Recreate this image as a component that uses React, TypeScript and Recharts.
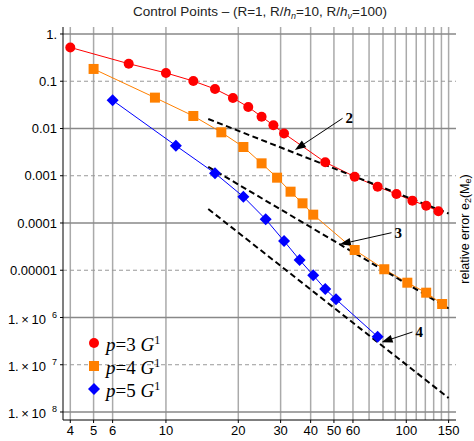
import React from 'react';
import { ComposedChart, Line, XAxis, YAxis, ReferenceLine } from 'recharts';

// element counts and relative errors per degree
const p3X = [4, 7, 10, 13, 16, 19, 22, 25, 28, 31, 46, 61, 76, 91, 106, 121, 136];
const p3Err = [0.52, 0.235, 0.15, 0.101, 0.0686, 0.0442, 0.0285, 0.0178, 0.0117, 0.00784, 0.00193, 9.55e-4, 5.86e-4, 4.11e-4, 2.97e-4, 2.32e-4, 1.77e-4];
const p4X = [5, 9, 13, 17, 21, 25, 29, 33, 37, 41, 61, 81, 101, 121, 141];
const p4Err = [0.182, 0.045, 0.0184, 0.0083, 0.00406, 0.00183, 9.1e-4, 4.6e-4, 2.61e-4, 1.5e-4, 2.68e-5, 1.05e-5, 5.45e-6, 3.35e-6, 1.93e-6];
const p5X = [6, 11, 16, 21, 26, 31, 36, 41, 46, 51, 76];
const p5Err = [0.0395, 0.00433, 0.00113, 3.6e-4, 1.2e-4, 4.16e-5, 1.65e-5, 7.82e-6, 4.01e-6, 2.43e-6, 3.92e-7];

// convergence-order guide lines (end points)
const slopeX = [15, 150];
const slope2 = [0.0159, 1.59e-4];
const slope3 = [1.55e-3, 1.55e-6];
const slope4 = [1.98e-4, 1.98e-8];

// order annotations: tail -> tip
const arrowLabels = ['2', '3', '4'];
const arrowTail = [[54.3, 0.0164], [86.8, 6.23e-5], [106.1, 4.93e-7]];
const arrowTip = [[34.4, 3.51e-3], [52.9, 3.54e-5], [78.9, 2.99e-7]];

const xTicks = [4, 5, 6, 10, 20, 30, 40, 50, 60, 100, 150];
const xGrid = [4, 5, 6, 10, 20, 30, 40, 50, 60, 70, 80, 90, 100, 110, 120, 130, 140, 150];
const yTicks = [1e-8, 1e-7, 1e-6, 1e-5, 1e-4, 1e-3, 0.01, 0.1, 1];
const yTickLabels = ['1.\u2009×\u200910|8', '1.\u2009×\u200910|7', '1.\u2009×\u200910|6', '0.00001', '0.0001', '0.001', '0.01', '0.1', '1.'];
const yMajor = [1, 0.01, 1e-4, 1e-6, 1e-8];
const yMinor = [0.1, 1e-3, 1e-5, 1e-7];

const xDomain = [3.73, 161];
const yDomain = [6.77e-9, 1.406];

const RED = '#ff0000';
const ORANGE = '#ff8000';
const BLUE = '#0000ff';

const toPoints = (xs: number[], ys: number[]) => xs.map((x, i) => ({ x, y: ys[i] }));

const circleDot = (props: any) => (
  <circle key={`c-${props.index}`} cx={props.cx} cy={props.cy} r={5} fill={RED} />
);
const squareDot = (props: any) => (
  <rect key={`s-${props.index}`} x={props.cx - 5} y={props.cy - 5} width={10} height={10} fill={ORANGE} />
);
const diamondDot = (props: any) => {
  const { cx, cy } = props;
  return (
    <polygon
      key={`d-${props.index}`}
      points={`${cx},${cy - 6} ${cx + 6},${cy} ${cx},${cy + 6} ${cx - 6},${cy}`}
      fill={BLUE}
    />
  );
};

const YTick = (props: any) => {
  const { x, y, payload } = props;
  const idx = yTicks.indexOf(payload.value);
  const label = yTickLabels[idx] ?? String(payload.value);
  const [base, sup] = label.split('|');
  return (
    <text x={x} y={y} textAnchor="end" fontSize={13} fontFamily='"Liberation Sans", Arial, sans-serif' fill="#000">
      <tspan dy={sup ? '0.5em' : '0.35em'}>{base}</tspan>
      {sup && (
        <tspan dx={6} dy={-6} fontSize={9}>
          {sup}
        </tspan>
      )}
    </text>
  );
};

const Arrow = (label: string) => (props: any) => {
  const { x1, y1, x2, y2 } = props;
  const dx = x2 - x1;
  const dy = y2 - y1;
  const len = Math.sqrt(dx * dx + dy * dy) || 1;
  const ux = dx / len;
  const uy = dy / len;
  const head = 11;
  const half = 4;
  const bx = x2 - ux * head;
  const by = y2 - uy * head;
  return (
    <g>
      <line x1={x1} y1={y1} x2={bx} y2={by} stroke="#000" strokeWidth={1} />
      <polygon
        points={`${x2},${y2} ${bx - uy * half},${by + ux * half} ${bx + uy * half},${by - ux * half}`}
        fill="#000"
      />
      <text
        x={x1 + 3}
        y={y1 + 5}
        fontSize={15}
        fontWeight="bold"
        fontFamily='"Liberation Serif", "Times New Roman", serif'
        fill="#000"
      >
        {label}
      </text>
    </g>
  );
};

const legendItems = [
  { deg: 3, color: RED, shape: 'circle' },
  { deg: 4, color: ORANGE, shape: 'square' },
  { deg: 5, color: BLUE, shape: 'diamond' },
];

const LegendIcon = ({ shape, color }: { shape: string; color: string }) => (
  <svg width={16} height={16} style={{ display: 'block' }}>
    {shape === 'circle' && <circle cx={8} cy={8} r={5} fill={color} />}
    {shape === 'square' && <rect x={3} y={3} width={10} height={10} fill={color} />}
    {shape === 'diamond' && <polygon points="8,2 14,8 8,14 2,8" fill={color} />}
  </svg>
);

export default function App() {
  const guides = [slope2, slope3, slope4];
  return (
    <div
      style={{
        position: 'absolute',
        left: 0,
        top: 0,
        width: 474,
        height: 441,
        overflow: 'hidden',
        background: '#fff',
      }}
    >
      <div
        style={{
          position: 'absolute',
          left: 60,
          top: 3,
          width: 400,
          textAlign: 'center',
          lineHeight: '18px',
          fontSize: 13.5,
          fontFamily: '"Liberation Sans", Arial, sans-serif',
          color: '#222',
          whiteSpace: 'nowrap',
        }}
      >
        Control Points – (R=1, R/<i>h</i>
        <i style={{ fontSize: 9, verticalAlign: '-0.3em' }}>n</i>=10, R/<i>h</i>
        <i style={{ fontSize: 9, verticalAlign: '-0.3em' }}>ν</i>=100)
      </div>

      <ComposedChart width={474} height={441} margin={{ top: 27, right: 18, bottom: 0, left: 3 }}>
        {/* grid: vertical at mesh sizes, solid even decades, dashed odd decades */}
        {xGrid.map((v) => (
          <ReferenceLine key={`gx-${v}`} x={v} stroke="#aaaaaa" strokeWidth={1.5} />
        ))}
        {yMajor.map((v) => (
          <ReferenceLine key={`gy-${v}`} y={v} stroke="#888888" strokeWidth={1.5} />
        ))}
        {yMinor.map((v) => (
          <ReferenceLine key={`gm-${v}`} y={v} stroke="#999999" strokeDasharray="4 3" />
        ))}

        <XAxis
          dataKey="x"
          type="number"
          scale="log"
          domain={xDomain}
          allowDataOverflow
          ticks={xTicks}
          tickSize={3}
          tickMargin={3}
          height={21}
          interval={0}
          tick={{ fontSize: 13, fill: '#000', fontFamily: '"Liberation Sans", Arial, sans-serif' }}
          axisLine={{ stroke: '#000' }}
          tickLine={{ stroke: '#000' }}
        />
        <XAxis
          xAxisId="top"
          orientation="top"
          type="number"
          scale="log"
          domain={xDomain}
          allowDataOverflow
          height={0}
          tick={false}
          tickLine={false}
          axisLine={{ stroke: '#000' }}
        />
        <YAxis
          type="number"
          scale="log"
          domain={yDomain}
          allowDataOverflow
          ticks={yTicks}
          interval={0}
          width={60}
          tickSize={3}
          tickMargin={3}
          tick={<YTick />}
          axisLine={{ stroke: '#000' }}
          tickLine={{ stroke: '#000' }}
        />
        <YAxis
          yAxisId="right"
          orientation="right"
          type="number"
          scale="log"
          domain={yDomain}
          allowDataOverflow
          width={0}
          tick={false}
          tickLine={false}
          axisLine={{ stroke: '#000' }}
        />

        <Line data={toPoints(p3X, p3Err)} dataKey="y" stroke={RED} strokeWidth={1} dot={circleDot} activeDot={false} isAnimationActive={false} />
        <Line data={toPoints(p4X, p4Err)} dataKey="y" stroke={ORANGE} strokeWidth={1} dot={squareDot} activeDot={false} isAnimationActive={false} />
        <Line data={toPoints(p5X, p5Err)} dataKey="y" stroke={BLUE} strokeWidth={1} dot={diamondDot} activeDot={false} isAnimationActive={false} />

        {guides.map((g, i) => (
          <ReferenceLine
            key={`guide-${i}`}
            segment={[
              { x: slopeX[0], y: g[0] },
              { x: slopeX[1], y: g[1] },
            ]}
            stroke="#000"
            strokeWidth={2}
            strokeDasharray="6 3.5"
            ifOverflow="visible"
          />
        ))}

        {arrowLabels.map((lab, i) => (
          <ReferenceLine
            key={`arrow-${i}`}
            segment={[
              { x: arrowTail[i][0], y: arrowTail[i][1] },
              { x: arrowTip[i][0], y: arrowTip[i][1] },
            ]}
            ifOverflow="visible"
            shape={Arrow(lab)}
          />
        ))}
      </ComposedChart>

      <div
        style={{
          position: 'absolute',
          left: 86,
          top: 331,
          fontFamily: '"Liberation Serif", "Times New Roman", serif',
          fontSize: 19,
          color: '#000',
        }}
      >
        {legendItems.map((item) => (
          <div key={item.deg} style={{ height: 23, lineHeight: '23px', display: 'flex', alignItems: 'center' }}>
            <LegendIcon shape={item.shape} color={item.color} />
            <span style={{ marginLeft: 4, whiteSpace: 'nowrap' }}>
              <i>p</i>={item.deg} <i>G</i>
              <span style={{ fontSize: 12, verticalAlign: '0.55em' }}>1</span>
            </span>
          </div>
        ))}
      </div>

      <div
        style={{
          position: 'absolute',
          left: 365,
          top: 221,
          width: 200,
          height: 16,
          lineHeight: '16px',
          textAlign: 'center',
          transform: 'rotate(-90deg)',
          fontSize: 12.5,
          fontFamily: '"Liberation Sans", Arial, sans-serif',
          color: '#000',
          whiteSpace: 'nowrap',
        }}
      >
        relative error e<span style={{ fontSize: 9, verticalAlign: '-0.2em' }}>2</span>(M
        <span style={{ fontSize: 9, verticalAlign: '-0.2em' }}>e</span>)
      </div>
    </div>
  );
}
